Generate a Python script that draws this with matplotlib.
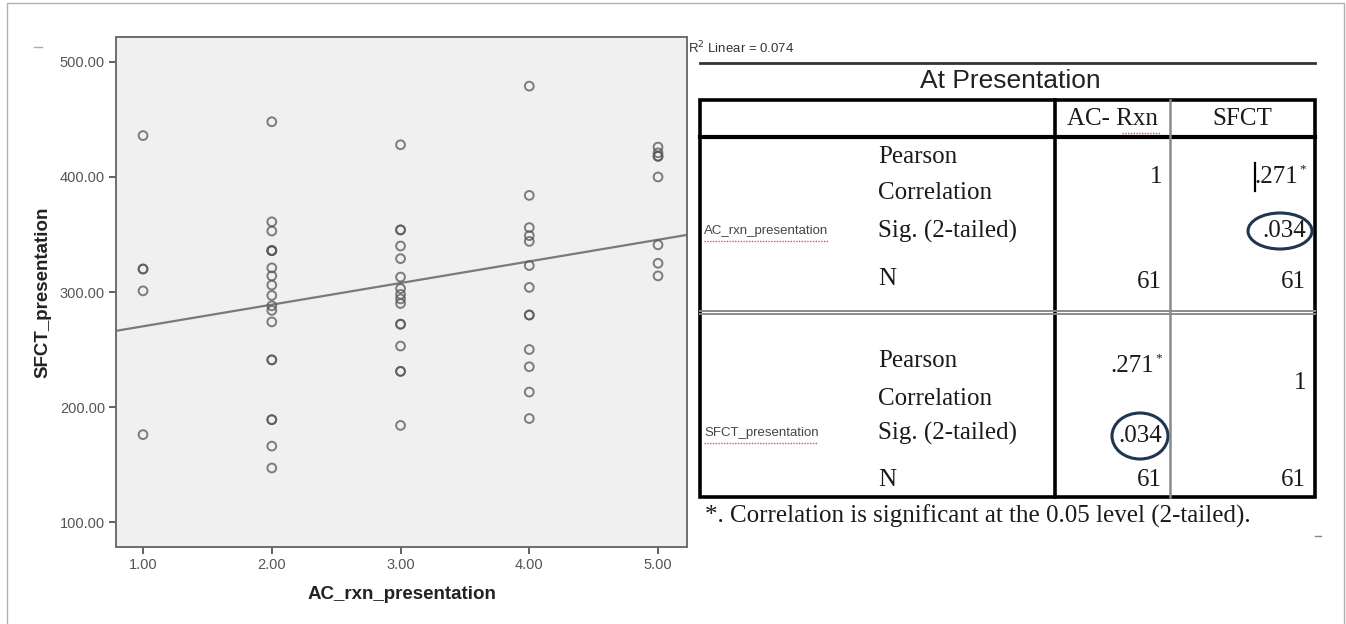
import matplotlib.pyplot as plt
from matplotlib.patches import Ellipse, Rectangle
import numpy as np

W, H = 1346, 624

# SFCT values, grouped by AC_rxn grade
sfct_1 = [436, 320, 320, 301, 176]
sfct_2 = [448, 361, 353, 336, 336, 336, 321, 314, 306, 297, 288, 284, 274, 241, 241, 189, 189, 166, 147]
sfct_3 = [428, 354, 354, 340, 329, 313, 303, 298, 294, 290, 272, 272, 253, 231, 231, 184]
sfct_4 = [479, 384, 356, 349, 344, 323, 304, 280, 280, 250, 235, 213, 190]
sfct_5 = [426, 421, 418, 418, 400, 341, 325, 314]
grades = [1, 2, 3, 4, 5]
x_ticks = [1, 2, 3, 4, 5]
y_ticks = [100, 200, 300, 400, 500]
r2_text = "R$^2$ Linear = 0.074"

# correlation table
title = "At Presentation"
col_headers = ["AC- Rxn", "SFCT"]
row_vars = ["AC_rxn_presentation", "SFCT_presentation"]
stat_labels = ["Pearson", "Correlation", "Sig. (2-tailed)", "N"]
ac_vals = [["1", "", "61"], [".271", ".034", "61"]]
sfct_vals = [[".271", ".034", "61"], ["1", "", "61"]]
starred = [[False, True], [True, False]]
footnote = "*. Correlation is significant at the 0.05 level (2-tailed)."

xs, ys = [], []
for g, vals in zip(grades, [sfct_1, sfct_2, sfct_3, sfct_4, sfct_5]):
    xs += [g] * len(vals)
    ys += vals
xs = np.array(xs, dtype=float)
ys = np.array(ys, dtype=float)

fig = plt.figure(figsize=(W / 100, H / 100), dpi=100)

# overlay in pixel coordinates for the table and frame
bg = fig.add_axes([0, 0, 1, 1])
bg.set_xlim(0, W)
bg.set_ylim(H, 0)
bg.axis("off")

# outer frame
bg.plot([7, 7, 1344, 1344], [623, 3, 3, 623], color="#b0b0b0", lw=1)
bg.plot([34, 42], [47, 47], color="#9ab0c8", lw=1)
bg.plot([1315, 1321], [536, 536], color="#888888", lw=1)

# scatter plot
ax = fig.add_axes([116 / W, (H - 547) / H, (687 - 116) / W, (547 - 37) / H])
ax.set_facecolor("#f0f0f0")
ax.scatter(xs, ys, s=40, facecolors="none", edgecolors="#555555", linewidths=1.4, alpha=0.75, zorder=3)
slope, icpt = np.polyfit(xs, ys, 1)
xl = np.array([0.79, 5.225])
ax.plot(xl, icpt + slope * xl, color="#7a7a7a", lw=1.6, zorder=2)
ax.set_xlim(0.79, 5.225)
ax.set_ylim(78.3, 521.7)
ax.set_xticks(x_ticks)
ax.set_yticks(y_ticks)
ax.set_xticklabels([f"{t:.2f}" for t in x_ticks])
ax.set_yticklabels([f"{t:.2f}" for t in y_ticks])
for s in ["top", "right", "left", "bottom"]:
    ax.spines[s].set_color("#6e6e6e")
    ax.spines[s].set_linewidth(1.4)
ax.tick_params(length=5, width=1.3, color="#555555", labelsize=10.5, labelcolor="#555555", pad=3)
for lab in ax.get_xticklabels() + ax.get_yticklabels():
    lab.set_family("Liberation Sans")
ax.set_xlabel("AC_rxn_presentation", fontsize=13.5, fontweight="bold", family="Liberation Sans", color="#222222", labelpad=10)
ax.set_ylabel("SFCT_presentation", fontsize=13.5, fontweight="bold", family="Liberation Sans", color="#222222", labelpad=6)

bg.text(688, 48, r2_text, fontsize=9.5, family="Liberation Sans", color="#333333", va="center", ha="left")

# table
serif = dict(family="Liberation Serif", fontsize=18, color="#1a1a1a")
bg.plot([700, 1315], [63, 63], color="#333333", lw=2)
bg.text(1010, 81, title, family="Liberation Sans", fontsize=19, color="#222222", ha="center", va="center")
bg.add_patch(Rectangle((700, 100), 615, 397, fill=False, edgecolor="black", lw=2.6))
bg.plot([700, 1315], [137, 137], color="black", lw=3)
bg.plot([1055, 1055], [100, 497], color="black", lw=2.6)
bg.plot([1170, 1170], [100, 497], color="#8a8a8a", lw=1.8)
bg.plot([700, 1315], [311, 311], color="#8a8a8a", lw=1.4)
bg.plot([700, 1315], [314, 314], color="#8a8a8a", lw=1.4)

bg.text(1112, 119, col_headers[0], ha="center", va="center", **serif)
bg.text(1242, 119, col_headers[1], ha="center", va="center", **serif)
bg.plot([1122, 1160], [133, 133], color="#e05050", lw=1, ls=(0, (1, 1)))

label_y = [[157, 193, 231, 279], [361, 399, 433, 480]]
value_y = [[177, 231, 282], [366, 436, 480]]
var_y = [231, 433]
for i in range(2):
    bg.text(704, var_y[i], row_vars[i], family="Liberation Sans", fontsize=9.5, color="#444444", ha="left", va="center")
    bg.plot([704, 704 + (125 if i == 0 else 114)], [var_y[i] + 10, var_y[i] + 10], color="#e05050", lw=1, ls=(0, (1, 1)))
    for lab, y in zip(stat_labels, label_y[i]):
        bg.text(878, y, lab, ha="left", va="center", **serif)
    for j in range(3):
        for vals, xr, col in [(ac_vals, 1162, 0), (sfct_vals, 1306, 1)]:
            v = vals[i][j]
            y = value_y[i][j]
            if i == 1 and col == 1 and j == 0:
                y = 383
            if v:
                star = starred[i][col] and j == 0
                xx = xr - 8 if star else xr
                bg.text(xx, y, v, ha="right", va="center", **serif)
                if star:
                    bg.text(xx + 1, y - 8, "*", ha="left", va="center", family="Liberation Serif", fontsize=9.5, color="#1a1a1a")

# cursor mark and circled p-values
bg.plot([1255, 1255], [163, 191], color="black", lw=1.6)
bg.add_patch(Ellipse((1280, 231), 64, 36, fill=False, edgecolor="#1f3550", lw=2.2))
bg.add_patch(Ellipse((1140, 436), 56, 46, fill=False, edgecolor="#1f3550", lw=2.2))

bg.text(705, 516, footnote, ha="left", va="center", **serif)

fig.savefig("out.png", dpi=100)
